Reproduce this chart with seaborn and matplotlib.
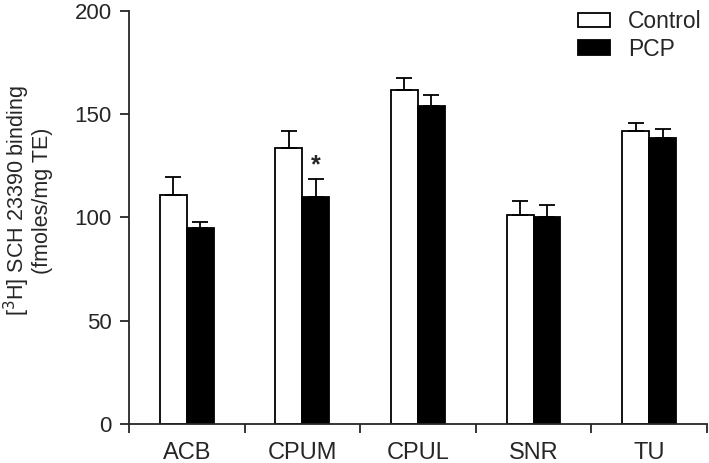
import pandas as pd
import matplotlib
matplotlib.use('Agg')
import matplotlib.pyplot as plt
import seaborn as sns

# valori (medie si eroare standard)
regiuni = ['ACB', 'CPUM', 'CPUL', 'SNR', 'TU']
control = [111, 133.5, 161.5, 101.3, 141.6]
control_err = [8.5, 8.3, 5.8, 6.7, 3.9]
pcp = [94.7, 109.8, 153.8, 100.1, 138.5]
pcp_err = [3.0, 8.6, 5.4, 5.7, 4.2]

df = pd.DataFrame({
    'regiune': regiuni * 2,
    'grup': ['Control'] * 5 + ['PCP'] * 5,
    'valoare': control + pcp,
    'eroare': control_err + pcp_err,
})

sns.set_style('ticks')
plt.rcParams['font.family'] = ['Liberation Sans', 'DejaVu Sans']

fig = plt.figure(figsize=(7.09, 4.63), dpi=100)
ax = fig.add_axes([0.182, 0.084, 0.815, 0.893])

sns.barplot(data=df, x='regiune', y='valoare', hue='grup', order=regiuni,
            hue_order=['Control', 'PCP'], palette={'Control': 'white', 'PCP': 'black'},
            edgecolor='black', linewidth=1.3, width=0.466, gap=0, errorbar=None, ax=ax)

# bare de eroare doar in sus, puse pe centrul fiecarei bare
bare = [p for p in ax.patches if p.get_height() > 0][:10]
for p, (_, rand) in zip(bare, df.iterrows()):
    x = p.get_x() + p.get_width() / 2
    ax.errorbar(x, rand['valoare'], yerr=[[0], [rand['eroare']]], fmt='none',
                ecolor='black', elinewidth=1.3, capsize=5.5, capthick=1.3)

# asterisc pentru CPUM PCP
i = regiuni.index('CPUM')
p = bare[5 + i]
ax.text(p.get_x() + p.get_width() / 2, pcp[i] + pcp_err[i] + 7, '*',
        ha='center', va='center', fontsize=18, fontweight='bold')

ax.set_xlim(-0.5, 4.5)
ax.set_ylim(0, 200)
ax.set_yticks([0, 50, 100, 150, 200])
ax.set_xticks(range(5))
ax.set_xticklabels(regiuni)
ax.set_xticks([k - 0.5 for k in range(6)], minor=True)
ax.tick_params(axis='x', which='major', length=0, pad=13, labelsize=17)
ax.tick_params(axis='x', which='minor', length=6.5, width=1.3)
ax.tick_params(axis='y', length=6.5, width=1.3, labelsize=16, pad=6)
for s in ['left', 'bottom']:
    ax.spines[s].set_linewidth(1.3)
sns.despine(ax=ax)

ax.set_xlabel('')
ax.set_ylabel('[$^{3}$H] SCH 23390 binding\n(fmoles/mg TE)', fontsize=15.5, linespacing=1.0)
ax.yaxis.set_label_coords(-0.131, 0.54)

ax.legend(frameon=False, loc='upper right', bbox_to_anchor=(1.015, 1.035), fontsize=16.5,
          handlelength=1.4, handleheight=0.6, handletextpad=0.8, labelspacing=0.2,
          borderaxespad=0.2)

fig.savefig('out.png', dpi=100)
